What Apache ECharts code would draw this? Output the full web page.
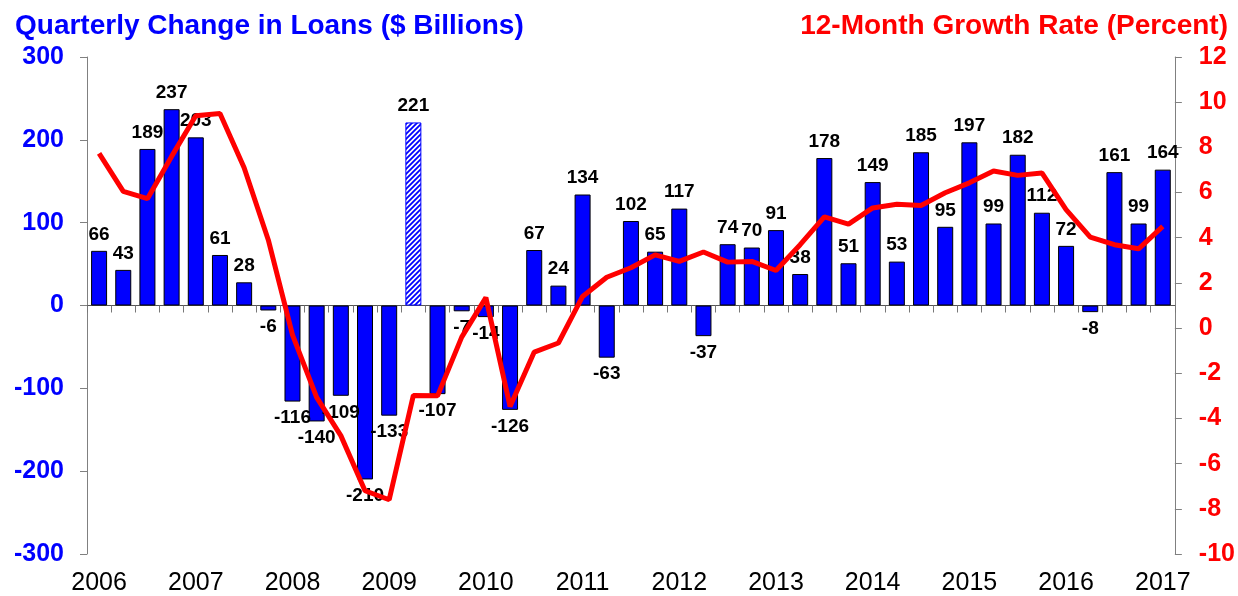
<!DOCTYPE html>
<html>
<head>
<meta charset="utf-8">
<style>
  html, body { margin: 0; padding: 0; background: #fff; }
  #chart { width: 1238px; height: 596px; }
</style>
<script src="https://cdn.jsdelivr.net/npm/echarts@6/dist/echarts.min.js"></script>
</head>
<body>
<div id="chart"></div>
<script>
// quarters 2006 Q1 .. 2017 Q1
const years = ['2006', '2007', '2008', '2009', '2010', '2011', '2012', '2013', '2014', '2015', '2016', '2017']
const quarters = []
years.forEach(y => {
    for (let q = 1; q <= 4; q++) {
        if (y === '2017' && q > 1) break
        quarters.push(y + ' Q' + q)
    }
})

// quarterly change in loans, $ billions
const loanChange = [66, 43, 189, 237, 203, 61, 28, -6, -116, -140, -109, -210, -133, 221, -107, -7, -14, -126, 67, 24,
    134, -63, 102, 65, 117, -37, 74, 70, 91, 38, 178, 51, 149, 53, 185, 95, 197, 99, 182, 112, 72, -8, 161, 99, 164]

// the 2009 Q2 bar is drawn hatched
const hatchedQuarter = '2009 Q2'

// 12-month growth rate, percent
const growthRate = [7.73, 6.05, 5.73, 7.6, 9.4, 9.5, 7.1, 3.9, -0.3, -3.07, -4.76, -7.2, -7.6, -2.98, -3.0, -0.4, 1.35, -3.47, -1.06, -0.66,
    1.4, 2.25, 2.67, 3.24, 2.95, 3.37, 2.92, 2.95, 2.55, 3.69, 4.92, 4.6, 5.32, 5.48, 5.43, 5.99, 6.43, 6.95, 6.76, 6.87,
    5.24, 4.03, 3.69, 3.51, 4.5]

const FONT = '"Liberation Sans", Arial, sans-serif'

// diagonal hatch pattern
function makeHatch() {
    const c = document.createElement('canvas')
    c.width = 5
    c.height = 5
    const ctx = c.getContext('2d')
    ctx.fillStyle = '#fff'
    ctx.fillRect(0, 0, 5, 5)
    ctx.strokeStyle = '#0000ff'
    ctx.lineWidth = 1.8
    ctx.beginPath()
    ctx.moveTo(-1, 6); ctx.lineTo(6, -1)
    ctx.moveTo(-1, 1); ctx.lineTo(1, -1)
    ctx.moveTo(4, 6); ctx.lineTo(6, 4)
    ctx.stroke()
    return c
}
const hatch = makeHatch()

const barData = loanChange.map((v, i) => {
    if (quarters[i] === hatchedQuarter) {
        return {
            value: v,
            itemStyle: { color: { image: hatch, repeat: 'repeat' }, borderColor: '#0000ff', borderWidth: 1 }
        }
    }
    return {
        value: v,
        label: { position: v < 0 ? 'bottom' : 'top' }
    }
})

const chart = echarts.init(document.getElementById('chart'))

chart.setOption({
    backgroundColor: '#fff',
    animation: false,
    title: [
        {
            text: 'Quarterly Change in Loans ($ Billions)',
            left: 10, top: 7,
            textStyle: { color: '#0000ff', fontSize: 28, fontWeight: 'bold', fontFamily: FONT }
        },
        {
            text: '12-Month Growth Rate (Percent)',
            right: 5, top: 7,
            textStyle: { color: '#ff0000', fontSize: 28, fontWeight: 'bold', fontFamily: FONT }
        }
    ],
    grid: { left: 87, right: 62, top: 57, bottom: 42 },
    xAxis: [
        {
            type: 'category',
            data: quarters,
            axisLine: { onZero: true, onZeroAxisIndex: 0, lineStyle: { color: '#555', width: 1 } },
            axisTick: { show: true, interval: 0, length: 7, lineStyle: { color: '#777' } },
            axisLabel: { show: false }
        },
        {
            type: 'category',
            data: quarters,
            position: 'bottom',
            axisLine: { show: false },
            axisTick: { show: false },
            axisLabel: {
                interval: (idx) => idx % 4 === 0,
                formatter: v => v.slice(0, 4),
                color: '#000', fontSize: 25, fontFamily: FONT, margin: 17
            }
        }
    ],
    yAxis: [
        {
            type: 'value',
            min: -300, max: 300, interval: 100,
            axisLine: { show: true, lineStyle: { color: '#808080' } },
            axisTick: { show: true, length: 7, lineStyle: { color: '#808080' } },
            splitLine: { show: false },
            axisLabel: { color: '#0000ff', fontSize: 25, fontWeight: 'bold', fontFamily: FONT, margin: 23 }
        },
        {
            type: 'value',
            min: -10, max: 12, interval: 2,
            position: 'right',
            axisLine: { show: true, lineStyle: { color: '#808080' } },
            axisTick: { show: true, length: 7, lineStyle: { color: '#808080' } },
            splitLine: { show: false },
            axisLabel: { color: '#ff0000', fontSize: 25, fontWeight: 'bold', fontFamily: FONT, margin: 24 }
        }
    ],
    series: [
        {
            type: 'bar',
            xAxisIndex: 0,
            yAxisIndex: 0,
            data: barData,
            barWidth: 16,
            itemStyle: { color: '#0000ff', borderColor: '#000', borderWidth: 1 },
            label: {
                show: true,
                position: 'top',
                distance: 7,
                color: '#000',
                fontSize: 19,
                fontWeight: 'bold',
                fontFamily: FONT
            },
            z: 2
        },
        {
            type: 'line',
            xAxisIndex: 0,
            yAxisIndex: 1,
            data: growthRate,
            symbol: 'none',
            lineStyle: { color: '#ff0000', width: 5 },
            z: 3
        }
    ]
})
</script>
</body>
</html>
